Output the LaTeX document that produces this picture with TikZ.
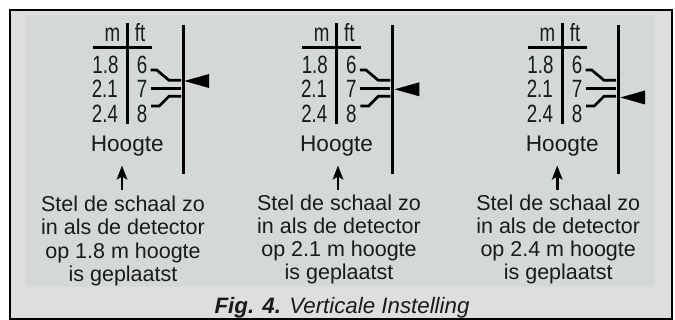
\documentclass[tikz,border=0pt]{standalone}
\usepackage{graphicx}
\usepackage{fontspec}
\setmainfont{Liberation Sans}
\usetikzlibrary{arrows.meta}
\definecolor{outerbg}{HTML}{DEDEDE}
\definecolor{innerbg}{HTML}{D4D8D9}
\definecolor{ink}{HTML}{1A1A1A}
\tikzset{
  x=1pt,y=-1pt,
  rule/.style={draw=black,line width=2.9pt},
  tick/.style={draw=black,line width=2.7pt},
  numlabel/.style={inner sep=0pt,text=ink,font=\fontsize{25}{25}\selectfont,anchor=base},
  hoogtelabel/.style={inner sep=0pt,text=ink,font=\fontsize{22.6}{22.6}\selectfont,anchor=base},
  note/.style={inner sep=0pt,text=ink,font=\fontsize{21.5}{23.2}\selectfont,align=center,anchor=north},
  pointer/.style={fill=black,draw=none},
  uparrow/.style={draw=black,line width=2.6pt,-{Stealth[length=14pt,width=10.5pt,inset=3pt]}},
}
\newcommand{\cnd}[1]{\scalebox{.75}[1]{#1}}
% offset, tag, pointer y, note top y, height text, arrow+note x, pointer shift
\newcommand{\panel}[7]{%
 \begin{scope}[shift={(#1,0)}]
  \coordinate (vt#2) at (127.2,23); \coordinate (vb#2) at (127.2,124);
  \coordinate (hl#2) at (92.7,47.3); \coordinate (hr#2) at (152,47.3);
  \coordinate (bt#2) at (183.5,25); \coordinate (bb#2) at (183.5,173.7);
  \draw[rule] (vt#2) -- (vb#2);
  \draw[rule] (hl#2) -- (hr#2);
  \draw[rule] (bt#2) -- (bb#2);
  \node[numlabel] (m#2) at (112.5,42) {\cnd{m}};
  \node[numlabel] (ft#2) at (140,42) {\cnd{ft}};
  \node[numlabel] (a#2) at (105.5,74) {\cnd{1.8}};
  \node[numlabel] (b#2) at (104.8,98) {\cnd{2.1}};
  \node[numlabel] (c#2) at (105,123) {\cnd{2.4}};
  \node[numlabel] (d#2) at (142,74) {\cnd{6}};
  \node[numlabel] (e#2) at (142,98) {\cnd{7}};
  \node[numlabel] (f#2) at (142,123) {\cnd{8}};
  \node[hoogtelabel] (h#2) at (127.3,151.7) {Hoogte};
  \draw[tick] (150.5,70) -- (156.7,70) -- (169,80.3) -- (181,80.3);
  \draw[tick] (151,88.3) -- (181,88.3);
  \draw[tick] (151,106) -- (159.3,106) -- (169,96.3) -- (181,96.3);
  \fill[pointer] (184.3+#7,#3) -- (209+#7,#3-7) -- (209+#7,#3+7) -- cycle;
 \end{scope}
 \coordinate (as#2) at (#6,190); \coordinate (ae#2) at (#6,165.5);
 \draw[uparrow] (as#2) -- (ae#2);
 \node[note] (t#2) at (#6+1,#4) {Stel de schaal zo\\in als de detector\\op #5 m hoogte\\is geplaatst};
}
\begin{document}
\begin{tikzpicture}
\useasboundingbox (0,0) rectangle (675,320);
\fill[white] (0,0) rectangle (675,320);
\draw[fill=outerbg,draw=black,line width=2pt] (10,10) rectangle (672,319);
\fill[innerbg] (25,15) rectangle (655,287);
\panel{0}{p}{81}{196}{1.8}{122}{0}
\panel{209.3}{q}{89.3}{194.5}{2.1}{338}{1}
\panel{435}{r}{97.5}{194.5}{2.4}{557.2}{1}
\node[inner sep=0pt,text=ink,font=\fontsize{22.3}{22.3}\selectfont\itshape,anchor=base] (cap) at (342,313.3) {\textbf{Fig. 4.} Verticale Instelling};
\end{tikzpicture}
\end{document}
